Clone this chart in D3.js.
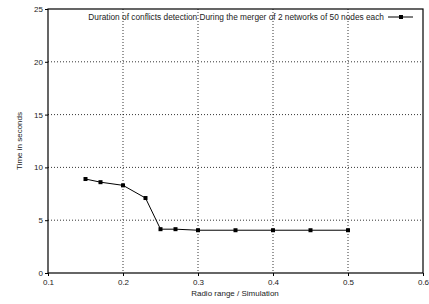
<!DOCTYPE html>
<html lang="en">
<head>
<meta charset="UTF-8">
<title>Conflicts detection</title>
<style>
    body { margin: 0; background: #fff; }
    text { font-family: "Liberation Sans", Arial, sans-serif; font-size: 8px; fill: #222; }
    .grid line { stroke: #000; stroke-width: 0.8; stroke-dasharray: 1,2; }
    .axis path { display: none; }
    .axis line { stroke: #000; }
</style>
</head>
<body>
<svg id="chart" width="429" height="304"></svg>
<script src="https://cdn.jsdelivr.net/npm/d3@7"></script>
<script>
    let radio = [0.15, 0.17, 0.2, 0.23, 0.25, 0.27, 0.3, 0.35, 0.4, 0.45, 0.5]
    let seconds = [8.9, 8.6, 8.3, 7.1, 4.15, 4.15, 4.05, 4.05, 4.05, 4.05, 4.05]
    let xTicks = [0.1, 0.2, 0.3, 0.4, 0.5, 0.6]
    let yTicks = [0, 5, 10, 15, 20, 25]
    let legendLabel = "Duration of conflicts detection During the merger of 2 networks of 50 nodes each"

    let svg = d3.select("#chart")
    let plotLeft = 48, plotRight = 423, plotTop = 9, plotBottom = 273

    let x = d3.scaleLinear().domain([0.1, 0.6]).range([plotLeft, plotRight])
    let y = d3.scaleLinear().domain([0, 25]).range([plotBottom, plotTop])

    // dotted grid
    let grid = svg.append("g").attr("class", "grid")
    grid.selectAll(".vx").data(xTicks.slice(1, -1)).join("line")
        .attr("x1", d => x(d)).attr("x2", d => x(d))
        .attr("y1", plotTop).attr("y2", plotBottom)
    grid.selectAll(".hy").data(yTicks.slice(1, -1)).join("line")
        .attr("x1", plotLeft).attr("x2", plotRight)
        .attr("y1", d => y(d)).attr("y2", d => y(d))

    svg.append("g").attr("class", "axis")
        .attr("transform", "translate(0," + plotBottom + ")")
        .call(d3.axisBottom(x).tickValues(xTicks).tickSize(3).tickPadding(3).tickFormat(d3.format(".1f")))
    svg.append("g").attr("class", "axis")
        .attr("transform", "translate(" + plotLeft + ",0)")
        .call(d3.axisLeft(y).tickValues(yTicks).tickSize(3).tickPadding(2))

    svg.append("rect")
        .attr("x", plotLeft).attr("y", plotTop)
        .attr("width", plotRight - plotLeft).attr("height", plotBottom - plotTop)
        .attr("fill", "none").attr("stroke", "#000").attr("stroke-width", 1.2)

    let data = radio.map((r, i) => ({ r: r, s: seconds[i] }))

    svg.append("path")
        .datum(data)
        .attr("d", d3.line().x(d => x(d.r)).y(d => y(d.s)))
        .attr("fill", "none").attr("stroke", "#000").attr("stroke-width", 1)

    svg.selectAll(".pt").data(data).join("rect")
        .attr("x", d => x(d.r) - 2).attr("y", d => y(d.s) - 2)
        .attr("width", 4).attr("height", 4).attr("fill", "#000")

    // legend
    svg.append("text").attr("x", 384).attr("y", 20).attr("text-anchor", "end")
        .style("font-size", "8.3px").text(legendLabel)
    svg.append("line").attr("x1", 388).attr("x2", 413).attr("y1", 17).attr("y2", 17)
        .attr("stroke", "#000").attr("stroke-width", 1)
    svg.append("rect").attr("x", 399).attr("y", 15).attr("width", 4).attr("height", 4).attr("fill", "#000")

    svg.append("text").attr("x", 235).attr("y", 296).attr("text-anchor", "middle").text("Radio range / Simulation")
    svg.append("text").attr("transform", "translate(22,141) rotate(-90)").attr("text-anchor", "middle").text("Time in seconds")
</script>
</body>
</html>
